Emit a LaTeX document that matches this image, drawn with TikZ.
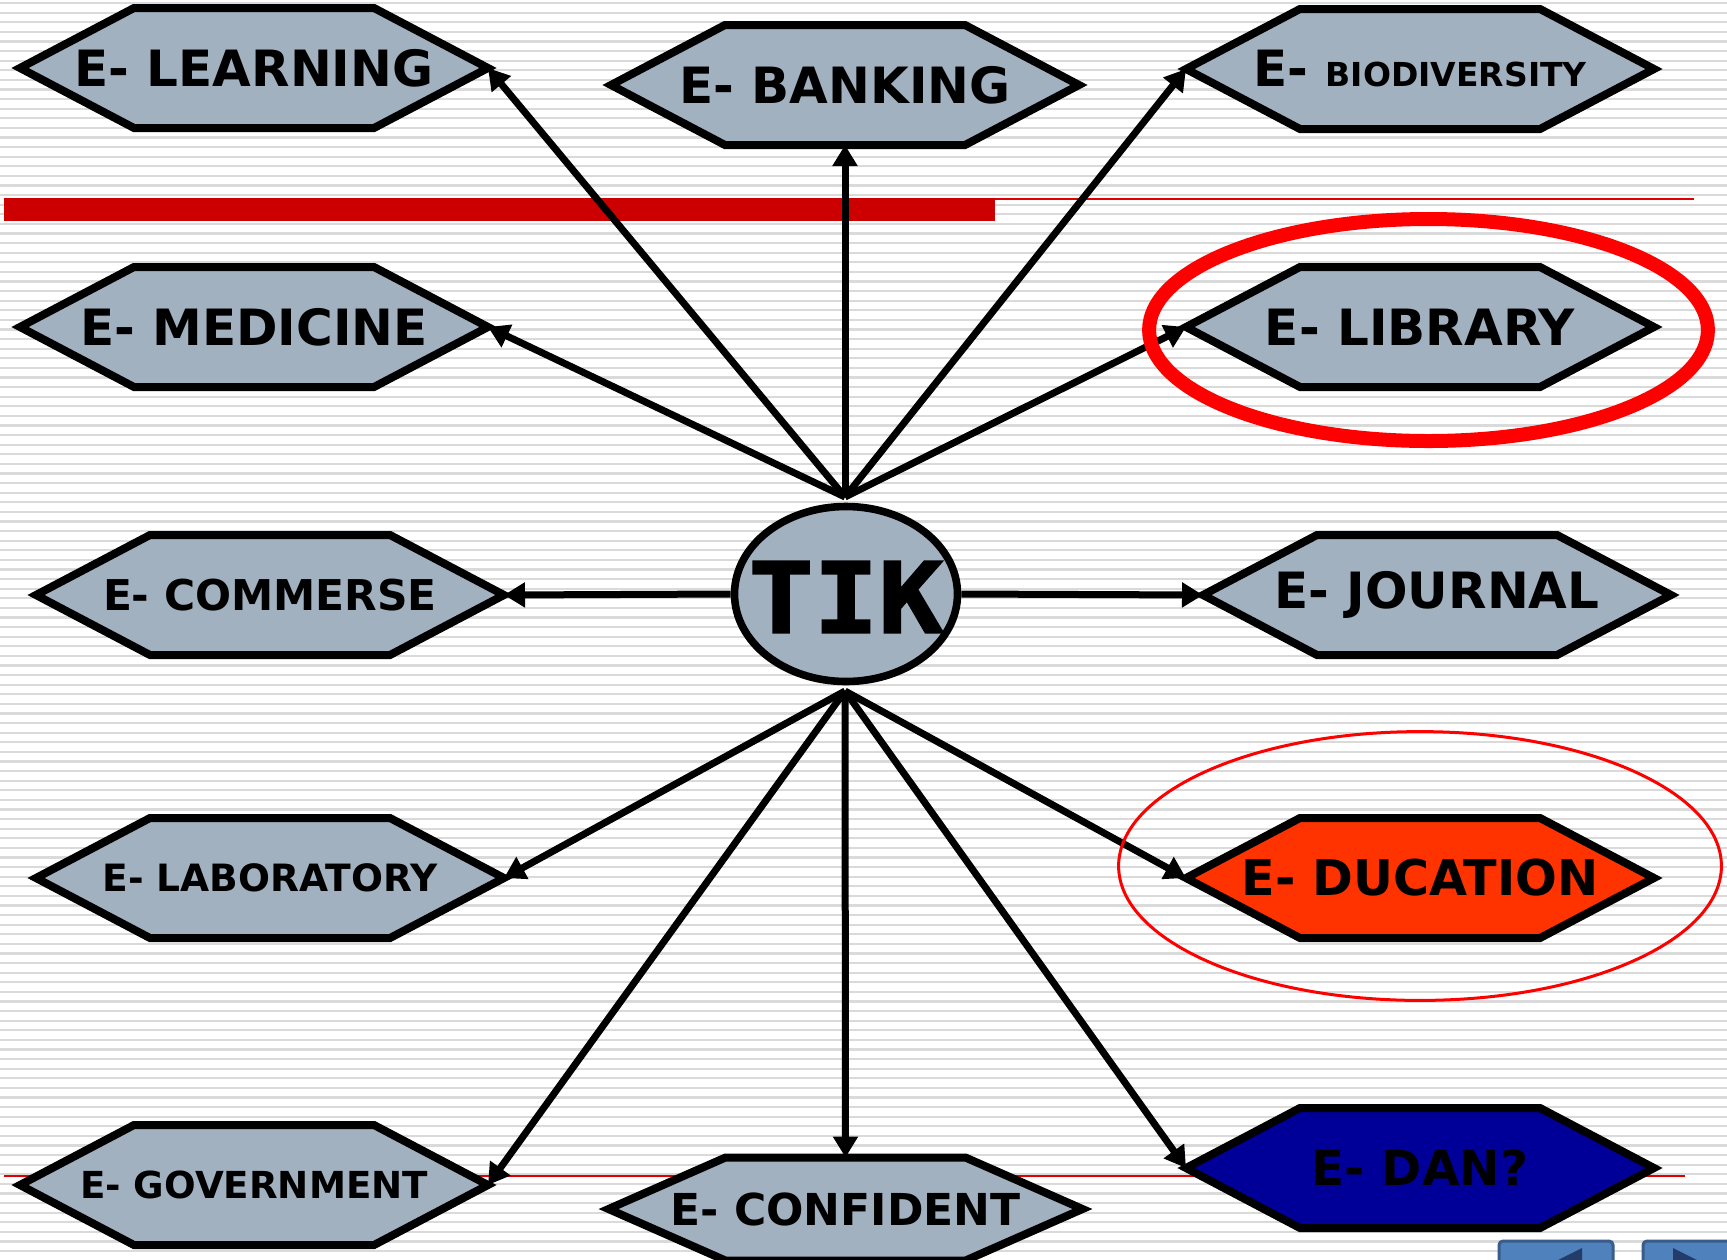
\documentclass[tikz,border=0pt]{standalone}
\usepackage{fontspec}
\usetikzlibrary{arrows.meta,calc,shapes.geometric}
\newfontfamily\labfont{DejaVu Sans}
\newfontfamily\tikfont{DejaVu Sans Mono}[FakeStretch=1.1,FakeBold=2]
\definecolor{hexfill}{RGB}{162,177,192}
\definecolor{barred}{RGB}{204,0,0}
\definecolor{thinred}{RGB}{225,0,0}
\definecolor{stripe}{RGB}{218,218,218}
\definecolor{ducfill}{RGB}{255,51,0}
\definecolor{danfill}{RGB}{0,0,153}
\definecolor{btnfill}{RGB}{79,129,189}
\definecolor{btnline}{RGB}{56,93,138}
\definecolor{btntri}{RGB}{35,60,105}
\pgfdeclarelayer{bgl}
\pgfdeclarelayer{hexl}
\pgfsetlayers{bgl,hexl,main}
\tikzset{
  hexbox/.style={minimum width=230pt, minimum height=56pt, inner sep=0pt, outer sep=2pt, text=black,
    font={\labfont\bfseries\fontsize{25}{30}\selectfont}},
  flatbox/.style={hexbox, minimum width=233pt, minimum height=47.5pt},
  hexline/.style={draw=black, line width=4pt, line join=miter},
  arr/.style={line width=3.5pt, -{Triangle[length=10.5pt,width=12pt]}},
  stripeline/.style={draw=stripe, line width=1.1pt},
}
\newcommand\hexshape[3]{%
  \begin{pgfonlayer}{hexl}
    \filldraw[hexline, fill=#2] (#1.west) -- ([xshift=#3]#1.north west) -- ([xshift=-#3]#1.north east)
      -- (#1.east) -- ([xshift=-#3]#1.south east) -- ([xshift=#3]#1.south west) -- cycle;
  \end{pgfonlayer}}
\begin{document}
\begin{tikzpicture}[x=0.5pt, y=-0.5pt]
\useasboundingbox (0,0) rectangle (1727,1259);
\begin{pgfonlayer}{bgl}
  \fill[white] (0,0) rectangle (1727,1259);
  \foreach \i in {0,...,131} \draw[stripeline] (0,{\i*9.6+3}) -- (1727,{\i*9.6+3});
  \fill[barred] (4,198) rectangle (995,221);
  \draw[thinred, line width=1pt] (995,198.5) -- (1694,198.5);
  \draw[thinred, line width=0.8pt] (4,1176) -- (1685,1176);
\end{pgfonlayer}

% nodes
\node[hexbox] (learn) at (254,68) {E- LEARNING};
\node[hexbox] (bank) at (845,85) {E- BANKING};
\node[hexbox] (bio) at (1420,69) {E- {\fontsize{16.5}{20}\selectfont BIODIVERSITY}};
\node[hexbox] (med) at (254,327) {E- MEDICINE};
\node[hexbox] (lib) at (1420,327) {E- LIBRARY};
\node[hexbox, font={\labfont\bfseries\fontsize{21.2}{26}\selectfont}] (comm) at (270,595) {E- COMMERSE};
\node[hexbox] (jour) at (1437,595) {E- JOURNAL};
\node[hexbox, font={\labfont\bfseries\fontsize{18.8}{24}\selectfont}] (lab) at (270,878) {E- LABORATORY};
\node[hexbox, font={\labfont\bfseries\fontsize{24.6}{30}\selectfont}] (duc) at (1420,878) {E- DUCATION};
\node[hexbox, font={\labfont\bfseries\fontsize{18.6}{24}\selectfont}] (gov) at (254,1185) {E- GOVERNMENT};
\node[flatbox, font={\labfont\bfseries\fontsize{22}{26}\selectfont}] (conf) at (845.5,1209) {E- CONFIDENT};
\node[hexbox, font={\labfont\bfseries\fontsize{24.2}{30}\selectfont}] (dan) at (1420,1168) {E- DAN?};

\hexshape{learn}{hexfill}{57pt}
\hexshape{bank}{hexfill}{57pt}
\hexshape{bio}{hexfill}{57pt}
\hexshape{med}{hexfill}{57pt}
\hexshape{lib}{hexfill}{57pt}
\hexshape{comm}{hexfill}{57pt}
\hexshape{jour}{hexfill}{57pt}
\hexshape{lab}{hexfill}{57pt}
\hexshape{duc}{ducfill}{57pt}
\hexshape{gov}{hexfill}{57pt}
\hexshape{conf}{hexfill}{58.5pt}
\hexshape{dan}{danfill}{57pt}

\node[ellipse, draw=black, line width=3.8pt, fill=hexfill, minimum width=111.5pt, minimum height=87.5pt, inner sep=0pt,
  label={[font={\tikfont\bfseries\fontsize{49}{55}\selectfont}, yshift=-1.5pt]center:TIK}] (tik) at (846,594) {};

\coordinate (ftop) at (845,497);
\coordinate (fbot) at (845,691);

\draw[arr] (ftop) -- (learn.east);
\draw[arr] (ftop) -- (bank.south);
\draw[arr] (ftop) -- (bio.west);
\draw[arr] (ftop) -- (med.east);
\draw[arr] (ftop) -- (lib.west);
\draw[arr] (tik.west) -- (comm.east);
\draw[arr] (tik.east) -- (jour.west);
\draw[arr] (fbot) -- (lab.east);
\draw[arr] (fbot) -- (duc.west);
\draw[arr] (fbot) -- (gov.east);
\draw[arr] (fbot) -- (conf.north);
\draw[arr] (fbot) -- (dan.west);

% highlight rings
\draw[red, line width=7pt] (1428.5,330) ellipse [x radius=139.7pt, y radius=55.5pt];
\draw[red, line width=1.5pt] (1420,866) ellipse [x radius=150.7pt, y radius=67.2pt];

% navigation buttons
\filldraw[fill=btnfill, draw=btnline, line width=1.5pt, rounded corners=2pt] (1499,1241) rectangle (1613,1290);
\fill[btntri] (1582,1248) -- (1582,1294) -- (1536,1271) -- cycle;
\filldraw[fill=btnfill, draw=btnline, line width=1.5pt, rounded corners=2pt] (1643,1241) rectangle (1765,1290);
\fill[btntri] (1673,1248) -- (1673,1294) -- (1719,1271) -- cycle;
\end{tikzpicture}
\end{document}
